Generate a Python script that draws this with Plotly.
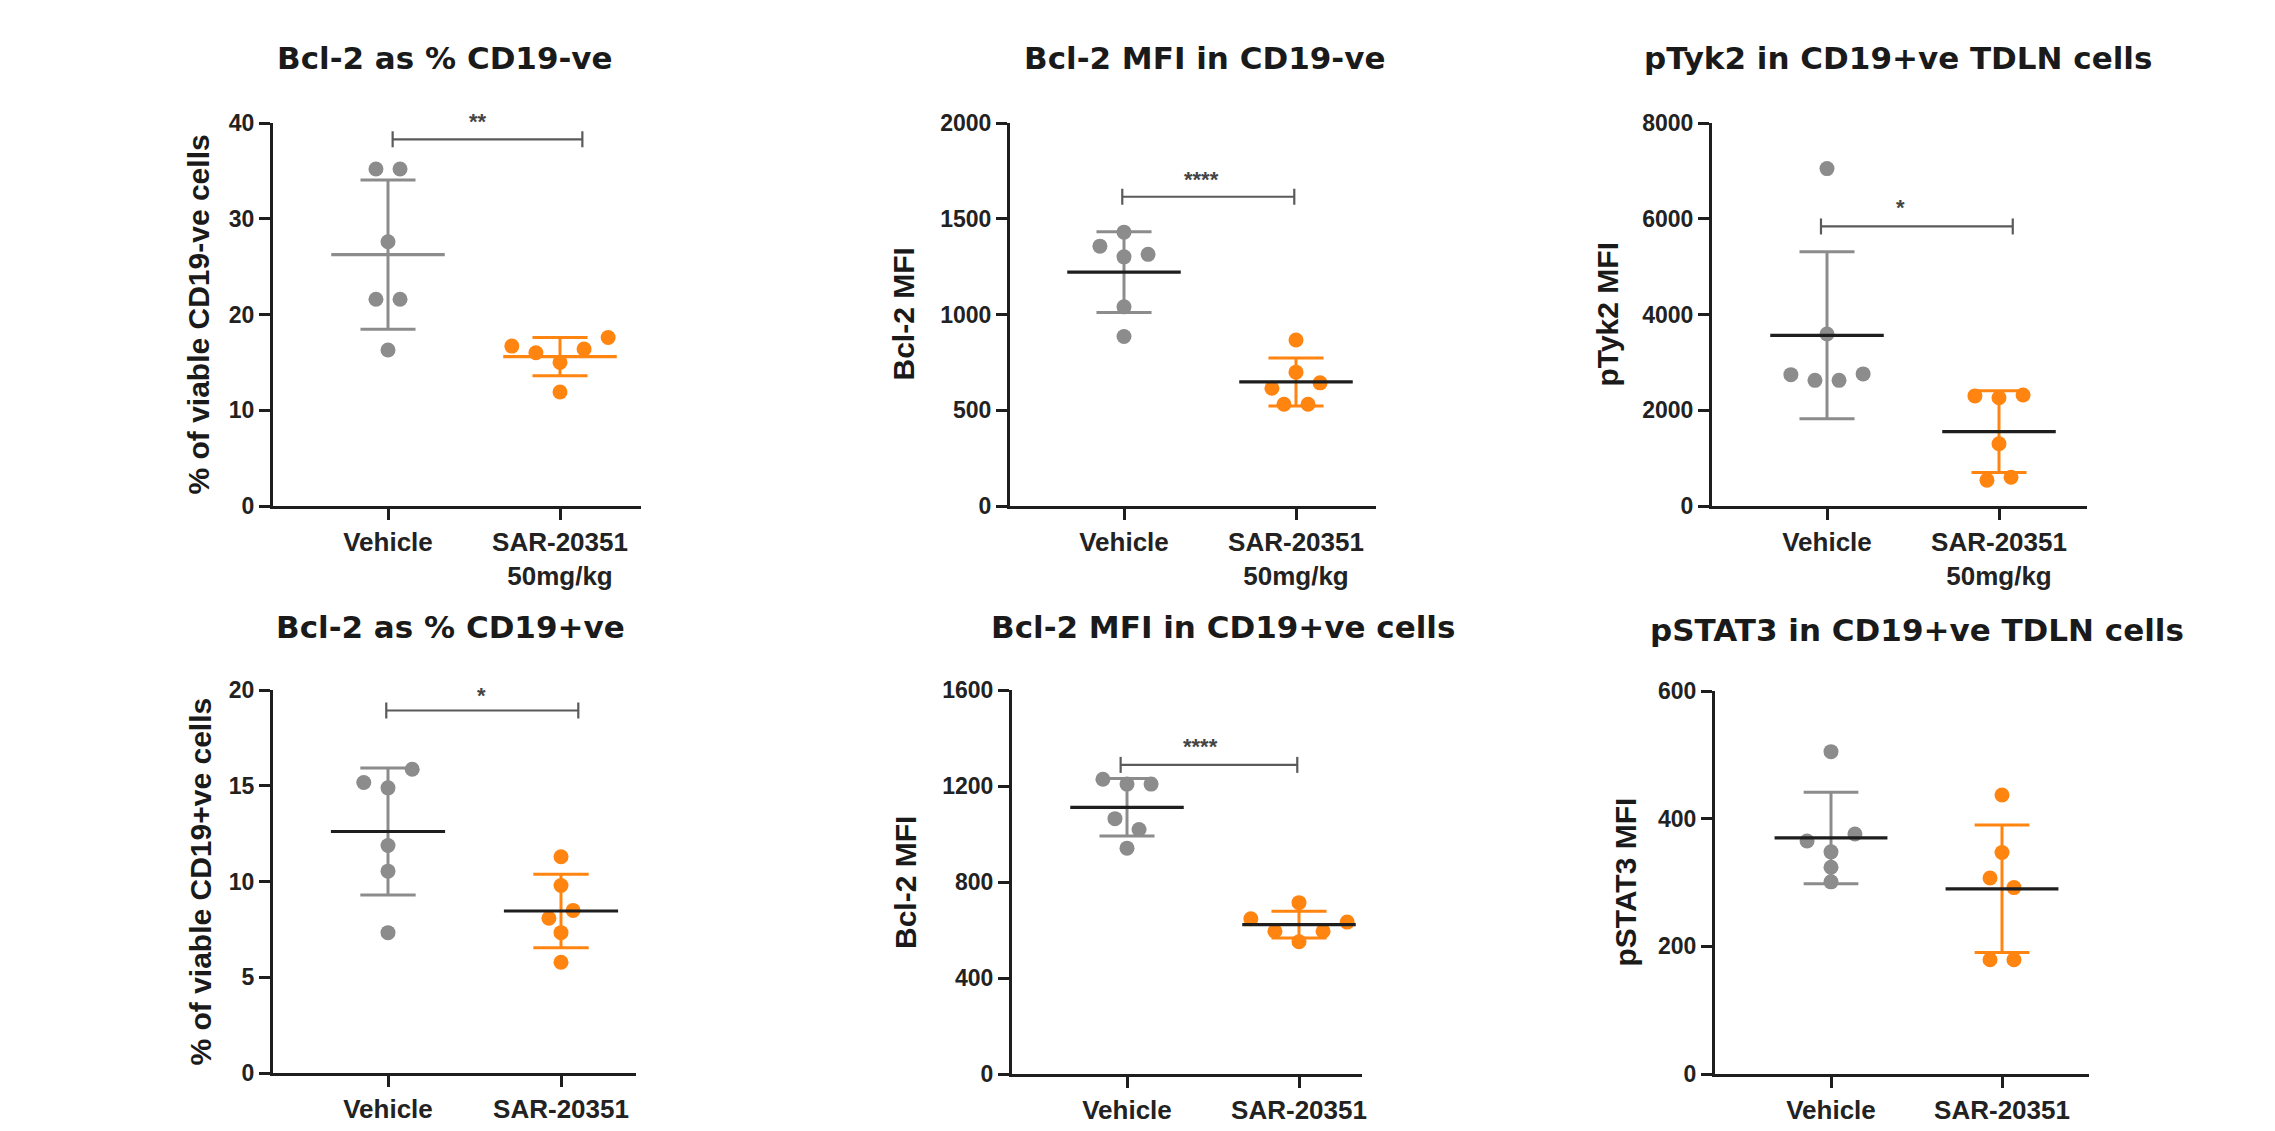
import numpy as np
import plotly.graph_objects as go

W, H = 2275, 1131

# ---------------- data ----------------
categories = ["Vehicle", "SAR-20351<br>50mg/kg"]

titles = ["Bcl-2 as % CD19-ve", "Bcl-2 MFI in CD19-ve", "pTyk2 in CD19+ve TDLN cells",
          "Bcl-2 as % CD19+ve", "Bcl-2 MFI in CD19+ve cells", "pSTAT3 in CD19+ve TDLN cells"]
ytitles = ["% of viable CD19-ve cells", "Bcl-2 MFI", "pTyk2 MFI",
           "% of viable CD19+ve cells", "Bcl-2 MFI", "pSTAT3 MFI"]

p1_vehicle = [35.2, 35.2, 27.6, 21.6, 21.6, 16.3]
p1_sar = [16.7, 16.0, 15.0, 16.4, 17.6, 11.9]
p2_vehicle = [1430, 1357, 1301, 1314, 1040, 885]
p2_sar = [867, 615, 699, 643, 531, 531]
p3_vehicle = [7047, 3594, 2744, 2625, 2625, 2759]
p3_sar = [2300, 2260, 2320, 1300, 540, 600]
p4_vehicle = [15.17, 14.89, 15.86, 11.88, 10.54, 7.33]
p4_sar = [11.29, 9.79, 8.08, 8.49, 7.33, 5.78]
p5_vehicle = [1228, 1208, 1208, 1064, 1019, 941]
p5_sar = [714, 647, 595, 551, 595, 633]
p6_vehicle = [505, 365, 348, 376, 324, 301]
p6_sar = [437, 347, 307, 292, 179, 179]

vehicle_sets = [p1_vehicle, p2_vehicle, p3_vehicle, p4_vehicle, p5_vehicle, p6_vehicle]
sar_sets = [p1_sar, p2_sar, p3_sar, p4_sar, p5_sar, p6_sar]

y_max = [40, 2000, 8000, 20, 1600, 600]
y_dtick = [10, 500, 2000, 5, 400, 200]

significance = ["**", "****", "*", "*", "****", ""]
sig_bracket_y = [38.3, 1615, 5839, 18.93, 1288, None]

# ---------------- layout / style ----------------
GRAY = "#8c8c8c"
ORANGE = "#ff8410"
DARK = "#1e1e1e"
mean_colors = [(GRAY, ORANGE), (DARK, DARK), (DARK, DARK), (DARK, DARK), (DARK, DARK), (DARK, DARK)]

# pixel geometry of each panel: axis left/right, tick positions, top/bottom
geom = [
    dict(L=273, R=641, t0=388, t1=560, T=123, B=506),
    dict(L=1010, R=1376, t0=1124, t1=1296, T=123, B=506),
    dict(L=1712, R=2087, t0=1827, t1=1999, T=123, B=506),
    dict(L=273, R=636, t0=388, t1=561, T=690, B=1073),
    dict(L=1012, R=1362, t0=1127, t1=1299, T=690, B=1074),
    dict(L=1715, R=2089, t0=1831, t1=2002, T=691, B=1074),
]
title_pos = [(445, 58), (1204, 58), (1898, 58), (450, 627), (1223, 627), (1917, 630)]
ytitle_x = [198, 903, 1607, 200, 905, 1625]
bracket_x = [(0.027, 1.13), (-0.01, 0.99), (-0.035, 1.08), (-0.01, 1.10), (-0.037, 0.99), None]
star_x = [0.523, 0.45, 0.43, 0.54, 0.43, None]
star_y = [40.7, 1729, 6338, 19.95, 1384, None]

MEAN_HALF = 0.33
CAP_HALF = 0.16
STEP = 0.14
THR = 0.0355

TITLE_FONT = dict(family="DejaVu Sans", size=31, color="#1a1a1a", weight="bold")
YT_FONT = dict(family="Liberation Sans", size=30, color="#1a1a1a", weight="bold")
TICK_FONT = dict(family="Liberation Sans", size=23, color="#222222", weight="bold")
XTICK_FONT = dict(family="Liberation Sans", size=26, color="#222222", weight="bold")
STAR_FONT = dict(family="Liberation Sans", size=22, color="#444444", weight="bold")


def swarm_offsets(vals, yrange):
    vals = np.asarray(vals, float)
    order = sorted(range(len(vals)), key=lambda i: -vals[i])
    rows = []
    for i in order:
        if rows and vals[rows[-1][-1]] - vals[i] < THR * yrange:
            rows[-1].append(i)
        else:
            rows.append([i])
    off = np.zeros(len(vals))
    for r in rows:
        r = sorted(r)
        n = len(r)
        for k, i in enumerate(r):
            off[i] = (k - (n - 1) / 2) * STEP
    return off


fig = go.Figure()
annotations = []
layout_axes = {}

for p in range(6):
    s = "" if p == 0 else str(p + 1)
    xa, ya = "x" + s, "y" + s
    g = geom[p]
    span = g["t1"] - g["t0"]
    xr = [(g["L"] - g["t0"]) / span, (g["R"] - g["t0"]) / span]
    ymx = y_max[p]

    groups = [(vehicle_sets[p], GRAY), (sar_sets[p], ORANGE)]
    for gi, (vals, col) in enumerate(groups):
        v = np.asarray(vals, float)
        m = v.mean()
        sd = v.std(ddof=1)
        # SD error bar
        fig.add_trace(go.Scatter(
            x=[gi, gi, None, gi - CAP_HALF, gi + CAP_HALF, None, gi - CAP_HALF, gi + CAP_HALF],
            y=[m - sd, m + sd, None, m + sd, m + sd, None, m - sd, m - sd],
            mode="lines", line=dict(color=col, width=3), xaxis=xa, yaxis=ya,
            showlegend=False, hoverinfo="skip", cliponaxis=False))
        # points
        off = swarm_offsets(v, ymx)
        fig.add_trace(go.Scatter(
            x=gi + off, y=v, mode="markers",
            marker=dict(size=15, color=col, line=dict(width=0)),
            xaxis=xa, yaxis=ya, showlegend=False, cliponaxis=False))
    for gi, (vals, col) in enumerate(groups):
        v = np.asarray(vals, float)
        m = v.mean()
        fig.add_trace(go.Scatter(
            x=[gi - MEAN_HALF, gi + MEAN_HALF], y=[m, m], mode="lines",
            line=dict(color=mean_colors[p][gi], width=3.2), xaxis=xa, yaxis=ya,
            showlegend=False, hoverinfo="skip", cliponaxis=False))

    # significance bracket
    if sig_bracket_y[p] is not None:
        by = sig_bracket_y[p]
        h = 8 * ymx / (g["B"] - g["T"])
        x0, x1 = bracket_x[p]
        fig.add_trace(go.Scatter(
            x=[x0, x0, None, x0, x1, None, x1, x1],
            y=[by - h, by + h, None, by, by, None, by - h, by + h],
            mode="lines", line=dict(color="#5a5a5a", width=2.2), xaxis=xa, yaxis=ya,
            showlegend=False, hoverinfo="skip", cliponaxis=False))
        sx_px = g["t0"] + star_x[p] * span
        sy_px = g["B"] - star_y[p] / ymx * (g["B"] - g["T"])
        annotations.append(dict(
            x=sx_px / W, y=1 - sy_px / H, xref="paper", yref="paper", text=significance[p],
            showarrow=False, xanchor="center", yanchor="middle", yshift=-5, font=STAR_FONT))

    # title
    tx, ty = title_pos[p]
    annotations.append(dict(
        x=tx / W, y=1 - ty / H, xref="paper", yref="paper", text=titles[p],
        showarrow=False, xanchor="center", yanchor="middle", font=TITLE_FONT))
    # y-axis title
    annotations.append(dict(
        x=ytitle_x[p] / W, y=1 - (g["T"] + g["B"]) / 2 / H, xref="paper", yref="paper",
        text=ytitles[p], textangle=-90, showarrow=False,
        xanchor="center", yanchor="middle", font=YT_FONT))

    layout_axes["xaxis" + s] = dict(
        domain=[g["L"] / W, g["R"] / W], range=xr, anchor=ya,
        showline=True, linecolor=DARK, linewidth=3,
        ticks="outside", ticklen=11, tickwidth=3, tickcolor=DARK,
        tickvals=[0, 1], ticktext=categories, tickfont=XTICK_FONT,
        showgrid=False, zeroline=False, fixedrange=True, automargin=False)
    layout_axes["yaxis" + s] = dict(
        domain=[1 - g["B"] / H, 1 - g["T"] / H], range=[0, ymx], anchor=xa,
        showline=True, linecolor=DARK, linewidth=3,
        ticks="outside", ticklen=11, tickwidth=3, tickcolor=DARK,
        tick0=0, dtick=y_dtick[p], tickfont=TICK_FONT,
        showgrid=False, zeroline=False, fixedrange=True, automargin=False)

fig.update_layout(
    width=W, height=H, autosize=False,
    margin=dict(l=0, r=0, t=0, b=0, pad=0, autoexpand=False),
    paper_bgcolor="white", plot_bgcolor="white",
    showlegend=False, annotations=annotations, **layout_axes)

fig.write_html("out.html", config={"displayModeBar": False},
               post_script="document.body.style.margin='0';document.body.style.overflow='hidden';")
